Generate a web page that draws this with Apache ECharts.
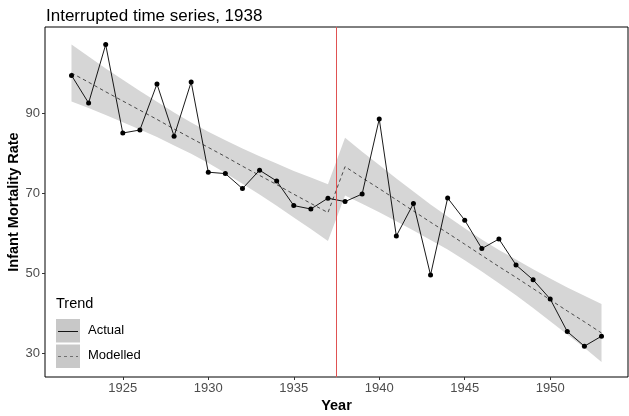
<!DOCTYPE html>
<html>
<head>
<meta charset="utf-8">
<script src="https://cdn.jsdelivr.net/npm/echarts@6/dist/echarts.min.js"></script>
<style>
  html, body { margin: 0; padding: 0; background: #fff; }
  #chart { width: 629px; height: 416px; }
</style>
</head>
<body>
<div id="chart"></div>
<script>
// values
const years = [1922, 1923, 1924, 1925, 1926, 1927, 1928, 1929, 1930, 1931, 1932, 1933, 1934, 1935, 1936, 1937,
  1938, 1939, 1940, 1941, 1942, 1943, 1944, 1945, 1946, 1947, 1948, 1949, 1950, 1951, 1952, 1953]
const actual = [99.4, 92.5, 107.1, 85.0, 85.75, 97.25, 84.2, 97.75, 75.2, 74.85, 71.1, 75.7, 73.0, 66.85, 66.0, 68.7,
  67.85, 69.75, 88.5, 59.25, 67.35, 49.5, 68.75, 63.2, 56.1, 58.5, 52.0, 48.3, 43.5, 35.35, 31.7, 34.2]
const modelled = [100.0, 97.7, 95.3, 93.0, 90.7, 88.4, 86.0, 83.7, 81.4, 79.1, 76.7, 74.4, 72.1, 69.7, 67.4, 65.1,
  76.6, 73.8, 71.1, 68.3, 65.5, 62.7, 60.0, 57.2, 54.4, 51.6, 48.9, 46.1, 43.3, 40.5, 37.8, 35.0]
const upper = [107.1, 104.15, 101.1, 98.3, 95.5, 92.8, 90.1, 87.6, 85.3, 83.2, 81.1, 79.2, 77.4, 75.5, 73.9, 72.2,
  83.8, 80.3, 77.0, 73.65, 70.35, 67.15, 64.15, 61.2, 58.4, 55.75, 53.35, 50.95, 48.65, 46.4, 44.3, 42.25]
const lower = [92.9, 91.25, 89.5, 87.7, 85.9, 84.0, 81.9, 79.8, 77.5, 75.0, 72.3, 69.6, 66.8, 63.9, 61.0, 58.0,
  69.4, 67.3, 65.2, 62.95, 60.65, 58.25, 55.85, 53.2, 50.4, 47.45, 44.45, 41.25, 37.95, 34.6, 31.3, 27.75]
const xTicks = [1925, 1930, 1935, 1940, 1945, 1950]
const yTicks = [30, 50, 70, 90]
const interruption = 1937.5

const chart = echarts.init(document.getElementById('chart'))

const font = '"Liberation Sans", Arial, sans-serif'

const option = {
  animation: false,
  backgroundColor: '#fff',
  title: {
    text: 'Interrupted time series, 1938',
    left: 41,
    top: 3,
    textStyle: { fontFamily: font, fontSize: 17, fontWeight: 'normal', color: '#000' }
  },
  grid: {
    left: 45,
    right: 1,
    top: 27,
    bottom: 39,
    outerBoundsMode: 'none',
    containLabel: false,
    show: true,
    borderColor: '#000',
    borderWidth: 1,
    backgroundColor: 'transparent'
  },
  xAxis: {
    type: 'value',
    min: 1920.45,
    max: 1954.55,
    name: 'Year',
    nameLocation: 'middle',
    nameGap: 21,
    nameMoveOverlap: false,
    nameTextStyle: { fontFamily: font, fontSize: 14.5, fontWeight: 'bold', color: '#000' },
    axisLine: { show: false },
    splitLine: { show: false },
    axisTick: { show: true, length: 3, customValues: xTicks, lineStyle: { color: '#333' } },
    axisLabel: {
      customValues: xTicks,
      margin: 5,
      fontFamily: font,
      fontSize: 13,
      color: '#4d4d4d',
      formatter: function(v) { return String(v) }
    }
  },
  yAxis: {
    type: 'value',
    min: 24,
    max: 111.5,
    name: 'Infant Mortality Rate',
    nameLocation: 'middle',
    nameGap: 24,
    nameMoveOverlap: false,
    nameTextStyle: { fontFamily: font, fontSize: 14.5, fontWeight: 'bold', color: '#000' },
    axisLine: { show: false },
    splitLine: { show: false },
    axisTick: { show: true, length: 3, customValues: yTicks, lineStyle: { color: '#333' } },
    axisLabel: { customValues: yTicks, margin: 5, fontFamily: font, fontSize: 13, color: '#4d4d4d' }
  },
  series: [
    {
      // confidence ribbon as one polygon
      type: 'custom',
      silent: true,
      z: 1,
      data: years.map((y, i) => [y, lower[i], upper[i]]),
      renderItem: function(params, api) {
        if (params.dataIndex !== 0) return
        const top = years.map((y, i) => api.coord([y, upper[i]]))
        const bot = years.map((y, i) => api.coord([y, lower[i]])).reverse()
        return {
          type: 'polygon',
          shape: { points: top.concat(bot) },
          style: { fill: '#d6d6d6' }
        }
      }
    },
    {
      name: 'Modelled',
      type: 'line',
      z: 2,
      data: years.map((y, i) => [y, modelled[i]]),
      symbol: 'none',
      lineStyle: { color: '#3a3a3a', width: 0.9, type: [3.5, 3] }
    },
    {
      name: 'Actual',
      type: 'line',
      z: 3,
      data: years.map((y, i) => [y, actual[i]]),
      symbol: 'circle',
      symbolSize: 5,
      itemStyle: { color: '#000' },
      lineStyle: { color: '#000', width: 0.9 },
      markLine: {
        silent: true,
        symbol: 'none',
        label: { show: false },
        lineStyle: { color: '#e05252', width: 1, type: 'solid' },
        data: [{ xAxis: interruption }]
      }
    }
  ],
  graphic: [
    { type: 'text', left: 56, top: 296, style: { text: 'Trend', font: '14.5px ' + font, fill: '#000' } },
    { type: 'rect', shape: { x: 56, y: 319, width: 24, height: 23.5 }, style: { fill: '#c8c8c8' } },
    { type: 'rect', shape: { x: 56, y: 344.5, width: 24, height: 23.5 }, style: { fill: '#c8c8c8' } },
    { type: 'line', shape: { x1: 58, y1: 331.5, x2: 78, y2: 331.5 }, style: { stroke: '#000', lineWidth: 0.9 } },
    { type: 'line', shape: { x1: 58, y1: 356.5, x2: 78, y2: 356.5 }, style: { stroke: '#666', lineWidth: 0.9, lineDash: [3, 3] } },
    { type: 'text', left: 88, top: 324, style: { text: 'Actual', font: '13px ' + font, fill: '#000' } },
    { type: 'text', left: 88, top: 349, style: { text: 'Modelled', font: '13px ' + font, fill: '#000' } }
  ]
}

chart.setOption(option)
</script>
</body>
</html>
